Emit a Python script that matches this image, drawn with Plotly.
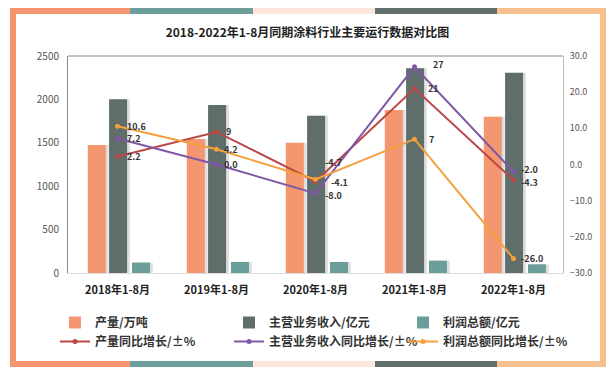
import plotly.graph_objects as go

categories = ["2018年1-8月", "2019年1-8月", "2020年1-8月", "2021年1-8月", "2022年1-8月"]
output_wt = [1475, 1545, 1500, 1878, 1800]          # 产量/万吨
revenue = [2001, 1935, 1812, 2358, 2308]            # 主营业务收入/亿元
profit = [120, 127, 127, 142, 100]                  # 利润总额/亿元
output_g = [2.2, 9, -4.7, 21, -4.3]                 # 产量同比增长
revenue_g = [7.2, 0.0, -8.0, 27, -2.0]              # 主营业务收入同比增长
profit_g = [10.6, 4.2, -4.1, 7, -26.0]              # 利润总额同比增长
output_g_lbl = ["2.2", "9", "-4.7", "21", "-4.3"]
revenue_g_lbl = ["7.2", "0.0", "-8.0", "27", "-2.0"]
profit_g_lbl = ["10.6", "4.2", "-4.1", "7", "-26.0"]

FONT = "Noto Sans CJK SC"
C_OR = "#F4966F"
C_DG = "#5F6E6B"
C_TL = "#6A9E9A"
C_RED = "#BC4747"
C_PUR = "#8058A8"
C_ORL = "#F3A03E"

FW, FH = 615, 372
L, R, T, B = 68, 563, 56, 273

def fx(x):
    return x / FW

def fy(y):
    return 1 - y / FH

fig = go.Figure()
BAR_W = 0.182
bar_specs = [(output_wt, "<b>产量/万吨</b>", C_OR, -0.300),
             (revenue, "<b>主营业务收入/亿元</b>", C_DG, -0.085),
             (profit, "<b>利润总额/亿元</b>", C_TL, 0.146)]
# soft shadows behind bars
for vals, nm, col, off in bar_specs:
    fig.add_bar(x=categories, y=vals, marker_color="rgba(0,0,0,0.13)", width=BAR_W,
                offset=off + 0.028, showlegend=False, hoverinfo="skip", yaxis="y",
                marker_line_width=0)
for vals, nm, col, off in bar_specs:
    fig.add_bar(x=categories, y=vals, name=nm, marker_color=col, width=BAR_W,
                offset=off, yaxis="y", marker_line_width=0)

for vals, nm, col in [(output_g, "<b>产量同比增长/±%</b>", C_RED),
                      (revenue_g, "<b>主营业务收入同比增长/±%</b>", C_PUR),
                      (profit_g, "<b>利润总额同比增长/±%</b>", C_ORL)]:
    fig.add_scatter(x=categories, y=vals, name=nm, yaxis="y2", mode="lines+markers",
                    line=dict(color=col, width=2), marker=dict(size=5, color=col))

# data labels: (dx, dy) offsets in pixels from each point
offsets = {
    "out": [(7, 0), (7, 0), (7, -19), (11, 0), (5, 2)],
    "rev": [(7, 0), (5, 0), (7, 2), (16, -2), (5, -2)],
    "pro": [(7, 0), (5, 0), (13, 3), (12, 0), (5, 0)],
}
annotations = []
for key, vals, lbls in [("out", output_g, output_g_lbl),
                        ("rev", revenue_g, revenue_g_lbl),
                        ("pro", profit_g, profit_g_lbl)]:
    for i, (c, v, t) in enumerate(zip(categories, vals, lbls)):
        dx, dy = offsets[key][i]
        annotations.append(dict(x=c, y=v, xref="x", yref="y2", text="<b>" + t + "</b>",
                                showarrow=False, xanchor="left", yanchor="middle",
                                xshift=dx, yshift=-dy,
                                font=dict(family=FONT, size=9, color="#333333")))

# decorative frame
shapes = []
segs = [(10, 130, "#F4956F"), (130, 253, "#6E9E9B"), (253, 375, "#FBE6D9"),
        (375, 497, "#61706D"), (497, 606, "#F8C08C")]
for x0, x1, c in segs:
    for y0, y1 in [(8, 14), (361, 367)]:
        shapes.append(dict(type="rect", xref="paper", yref="paper",
                           x0=fx(x0), x1=fx(x1), y0=fy(y0), y1=fy(y1),
                           fillcolor=c, line_width=0, layer="above"))
shapes.append(dict(type="rect", xref="paper", yref="paper", x0=fx(10), x1=fx(16),
                   y0=fy(8), y1=fy(367), fillcolor="#F4956F", line_width=0, layer="above"))
shapes.append(dict(type="rect", xref="paper", yref="paper", x0=fx(600), x1=fx(606),
                   y0=fy(8), y1=fy(367), fillcolor="#F8C08C", line_width=0, layer="above"))
# plot box top edge
shapes.append(dict(type="line", xref="paper", yref="paper", x0=fx(L), x1=fx(R),
                   y0=fy(T), y1=fy(T), line=dict(color="#888888", width=1)))

fig.update_layout(
    width=FW, height=FH,
    margin=dict(l=0, r=0, t=0, b=0, autoexpand=False),
    paper_bgcolor="white", plot_bgcolor="white",
    barmode="overlay",
    font=dict(family=FONT, size=10, color="#555555"),
    title=dict(text="<b>2018-2022年1-8月同期涂料行业主要运行数据对比图</b>",
               x=0.5, xanchor="center", y=fy(33), yanchor="middle",
               font=dict(family=FONT, size=12, color="#222222")),
    xaxis=dict(domain=[fx(L), fx(R)], showgrid=False, showline=True, linecolor="#DDDDDD",
               ticks="", tickfont=dict(family=FONT, size=11, color="#222222"),
               tickprefix="<b>", ticksuffix="</b>", ticklabelstandoff=7),
    yaxis=dict(domain=[fy(B), fy(T)], range=[0, 2500], dtick=500, showgrid=False,
               showline=True, linecolor="#888888", linewidth=1, ticks="",
               tickfont=dict(family=FONT, size=10, color="#555555"), zeroline=False,
               ticklabelstandoff=6),
    yaxis2=dict(range=[-30, 30], dtick=10, overlaying="y", side="right",
                showgrid=False, showline=True, linecolor="#BBBBBB", ticks="",
                tickformat=".1f", zeroline=False, ticklabelstandoff=4,
                tickfont=dict(family=FONT, size=9, color="#555555")),
    legend=dict(orientation="h", x=fx(55), xanchor="left", y=fy(308), yanchor="top",
                entrywidth=129, entrywidthmode="pixels", traceorder="normal",
                font=dict(family=FONT, size=12, color="#333333"),
                itemwidth=30, tracegroupgap=0, bgcolor="rgba(0,0,0,0)"),
    shapes=shapes,
    annotations=annotations,
    showlegend=True,
)
fig.write_html("out.html", config={"displayModeBar": False},
               post_script="document.body.style.margin='0';")
